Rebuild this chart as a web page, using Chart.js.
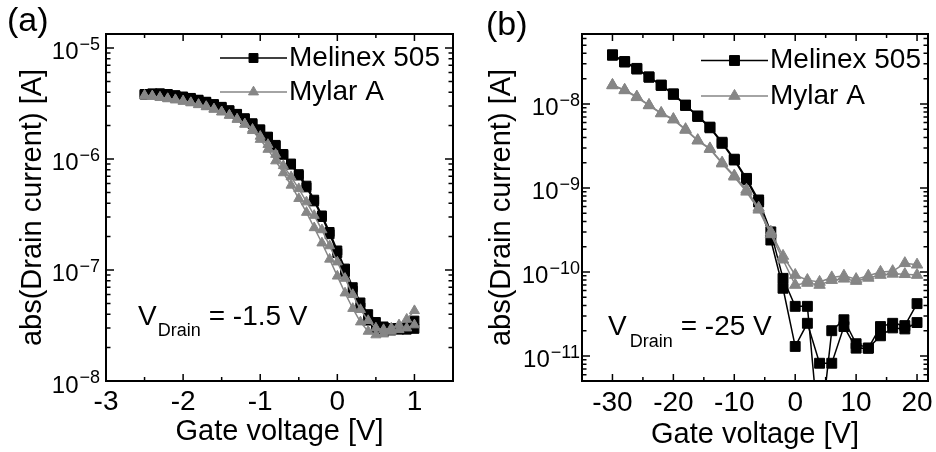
<!DOCTYPE html>
<html>
<head>
<meta charset="utf-8">
<script src="https://cdn.jsdelivr.net/npm/chart.js@4.4.0/dist/chart.umd.min.js"></script>
<style>
  html, body { margin: 0; padding: 0; background: #fff; }
  #wrap { position: relative; width: 936px; height: 452px; }
  .panel { position: absolute; top: 0; width: 468px; height: 452px; }
</style>
</head>
<body>
<div id="wrap">
  <div class="panel" style="left:0"><canvas id="chartA" width="468" height="452"></canvas></div>
  <div class="panel" style="left:468px"><canvas id="chartB" width="468" height="452"></canvas></div>
</div>
<script>
// ---- panel (a): V_Drain = -1.5 V ----
const gateA = [-2.5, -2.4, -2.3, -2.2, -2.1, -2.0, -1.9, -1.8, -1.7, -1.6, -1.5, -1.4,
  -1.3, -1.2, -1.1, -1.0, -0.9, -0.8, -0.7, -0.6, -0.5, -0.4, -0.3, -0.2, -0.1, 0,
  0.1, 0.2, 0.3, 0.4, 0.5, 0.6, 0.7, 0.8, 0.9, 1.0];
const melinexA_up = [3.85e-6, 3.9e-6, 3.9e-6, 3.85e-6, 3.75e-6, 3.65e-6, 3.55e-6, 3.42e-6,
  3.28e-6, 3.12e-6, 2.95e-6, 2.75e-6, 2.55e-6, 2.33e-6, 2.1e-6, 1.85e-6, 1.59e-6, 1.34e-6,
  1.11e-6, 9.1e-7, 7.3e-7, 5.75e-7, 4.3e-7, 3.1e-7, 2.2e-7, 1.5e-7, 1.03e-7, 7.0e-8,
  5.1e-8, 4.0e-8, 3.4e-8, 3.1e-8, 3.0e-8, 3.0e-8, 3.05e-8, 3.5e-8];
const melinexA_down = [3.8e-6, 3.85e-6, 3.88e-6, 3.84e-6, 3.74e-6, 3.63e-6, 3.52e-6, 3.4e-6,
  3.25e-6, 3.1e-6, 2.93e-6, 2.73e-6, 2.52e-6, 2.3e-6, 2.07e-6, 1.83e-6, 1.57e-6, 1.32e-6,
  1.09e-6, 8.9e-7, 7.1e-7, 5.55e-7, 4.15e-7, 3.0e-7, 2.1e-7, 1.42e-7, 9.6e-8, 6.5e-8,
  4.6e-8, 3.5e-8, 3.0e-8, 2.8e-8, 2.85e-8, 2.9e-8, 2.9e-8, 2.95e-8];
const mylarA_up = [3.75e-6, 3.7e-6, 3.6e-6, 3.5e-6, 3.42e-6, 3.33e-6, 3.22e-6, 3.1e-6,
  2.97e-6, 2.82e-6, 2.66e-6, 2.48e-6, 2.28e-6, 2.05e-6, 1.8e-6, 1.5e-6, 1.22e-6, 9.6e-7,
  7.5e-7, 5.8e-7, 4.4e-7, 3.3e-7, 2.4e-7, 1.75e-7, 1.25e-7, 8.8e-8, 6.2e-8, 4.5e-8,
  3.4e-8, 2.8e-8, 2.6e-8, 2.65e-8, 2.8e-8, 2.9e-8, 3.0e-8, 3.2e-8];
const mylarA_down = [3.7e-6, 3.65e-6, 3.57e-6, 3.48e-6, 3.4e-6, 3.3e-6, 3.2e-6, 3.08e-6,
  2.95e-6, 2.8e-6, 2.65e-6, 2.47e-6, 2.28e-6, 2.07e-6, 1.85e-6, 1.6e-6, 1.35e-6, 1.1e-6,
  8.7e-7, 6.9e-7, 5.4e-7, 4.1e-7, 3.1e-7, 2.3e-7, 1.65e-7, 1.18e-7, 8.4e-8, 6.0e-8,
  4.4e-8, 3.5e-8, 3.0e-8, 2.9e-8, 3.0e-8, 3.2e-8, 3.6e-8, 4.3e-8];
const xTicksA = [-3, -2, -1, 0, 1];
const xMinorA = [-2.5, -1.5, -0.5, 0.5];
const yExpA = [-8, -7, -6, -5];

// ---- panel (b): V_Drain = -25 V ----
const gateB = [-30, -28, -26, -24, -22, -20, -18, -16, -14, -12, -10, -8, -6, -4, -2, 0,
  2, 4, 6, 8, 10, 12, 14, 16, 18, 20];
const melinexB_up = [3.85e-8, 3.2e-8, 2.65e-8, 2.1e-8, 1.68e-8, 1.32e-8, 9.7e-9, 7.2e-9,
  5.3e-9, 3.5e-9, 2.2e-9, 1.3e-9, 7.2e-10, 3.0e-10, 8.4e-11, 3.9e-11, 3.9e-11, 1e-12,
  2.0e-11, 2.7e-11, 1.4e-11, 1.24e-11, 2.24e-11, 2.45e-11, 2.3e-11, 4.2e-11];
const melinexB_down = [3.8e-8, 3.15e-8, 2.6e-8, 2.08e-8, 1.66e-8, 1.3e-8, 9.6e-9, 7.1e-9,
  5.2e-9, 3.4e-9, 2.15e-9, 1.25e-9, 6.8e-10, 2.4e-10, 6.4e-11, 1.3e-11, 2.45e-11, 8.2e-12,
  8.2e-12, 2.24e-11, 1.24e-11, 1.24e-11, 1.74e-11, 2.16e-11, 2.1e-11, 2.5e-11];
const mylarB_up = [1.68e-8, 1.47e-8, 1.22e-8, 9.7e-9, 7.8e-9, 6.6e-9, 5.0e-9, 3.7e-9,
  2.95e-9, 2.0e-9, 1.4e-9, 9.5e-10, 5.8e-10, 3.0e-10, 1.55e-10, 9.2e-11, 8.0e-11, 7.6e-11,
  8.6e-11, 9.0e-11, 8.2e-11, 9.0e-11, 1.0e-10, 1.02e-10, 1.27e-10, 1.22e-10];
const mylarB_down = [1.66e-8, 1.45e-8, 1.2e-8, 9.6e-9, 7.7e-9, 6.5e-9, 4.9e-9, 3.65e-9,
  2.9e-9, 1.95e-9, 1.36e-9, 9.0e-10, 5.5e-10, 2.8e-10, 1.4e-10, 7.0e-11, 7.4e-11, 7.0e-11,
  8.0e-11, 8.3e-11, 7.8e-11, 8.5e-11, 9.2e-11, 9.5e-11, 9.4e-11, 9.2e-11];
const xTicksB = [-30, -20, -10, 0, 10, 20];
const xMinorB = [-25, -15, -5, 5, 15];
const yExpB = [-11, -10, -9, -8];

const FONT = '"Liberation Sans", Arial, Helvetica, sans-serif';
const BLACK = '#000000';
const GREY = '#868686';

function series(label, xs, ys, color, style, r) {
    return {
        label: label,
        data: xs.map((x, i) => ({ x: x, y: ys[i] })),
        borderColor: color,
        backgroundColor: color,
        borderWidth: 1.5,
        pointStyle: style,
        pointRadius: r,
        pointBorderWidth: 1,
        pointBorderColor: color,
        pointBackgroundColor: color,
        tension: 0,
        order: color === GREY ? 0 : 1, // grey drawn on top
    };
}

// frame, inward ticks, 10^n labels, legend and notes
const decor = {
    id: "decor",
    afterDraw(chart, args, o) {
        const ctx = chart.ctx;
        const a = chart.chartArea;
        const xs = chart.scales.x, ys = chart.scales.y;
        ctx.save();
        ctx.strokeStyle = BLACK;
        ctx.lineWidth = 1.5;
        ctx.beginPath();
        const vTick = (v, len) => {
            const px = xs.getPixelForValue(v);
            ctx.moveTo(px, a.bottom); ctx.lineTo(px, a.bottom - len);
            ctx.moveTo(px, a.top); ctx.lineTo(px, a.top + len);
        };
        const hTick = (v, len) => {
            const py = ys.getPixelForValue(v);
            ctx.moveTo(a.left, py); ctx.lineTo(a.left + len, py);
            ctx.moveTo(a.right, py); ctx.lineTo(a.right - len, py);
        };
        o.xMajor.forEach(v => vTick(v, 7));
        o.xMinor.forEach(v => vTick(v, 4));
        for (let e = Math.floor(Math.log10(ys.min)); e <= Math.log10(ys.max); e++) {
            for (let m = 1; m <= 9; m++) {
                const v = m * Math.pow(10, e);
                if (v < ys.min || v > ys.max) continue;
                hTick(v, m === 1 ? 8 : 4.5);
            }
        }
        ctx.stroke();

        ctx.lineWidth = 2;
        ctx.strokeRect(a.left, a.top, a.right - a.left, a.bottom - a.top);

        // y tick labels as 10 with superscript exponent
        ctx.fillStyle = BLACK;
        ctx.textAlign = "left";
        ctx.textBaseline = "alphabetic";
        o.yExp.forEach(e => {
            const py = ys.getPixelForValue(Math.pow(10, e));
            const sup = "\u2212" + Math.abs(e);
            ctx.font = "18px " + FONT;
            const wSup = ctx.measureText(sup).width;
            ctx.font = "24px " + FONT;
            const wBase = ctx.measureText("10").width;
            const right = a.left - o.labelGap;
            ctx.fillText("10", right - wSup - wBase - 1, py + 11.5);
            ctx.font = "18px " + FONT;
            ctx.fillText(sup, right - wSup, py + 2);
        });

        // legend
        chart.data.datasets.filter(d => d.label).forEach((d, i) => {
            const y = o.legend.y[i];
            ctx.strokeStyle = d.borderColor;
            ctx.lineWidth = 1.5;
            ctx.beginPath();
            ctx.moveTo(o.legend.x0, y);
            ctx.lineTo(o.legend.x1, y);
            ctx.stroke();
            ctx.fillStyle = d.backgroundColor;
            ctx.lineWidth = 1;
            Chart.helpers.drawPoint(ctx, { pointStyle: d.pointStyle, radius: d.pointRadius, borderWidth: 1, rotation: 0 },
                (o.legend.x0 + o.legend.x1) / 2, y);
            ctx.fillStyle = BLACK;
            ctx.font = "28px " + FONT;
            ctx.textBaseline = "middle";
            ctx.fillText(d.label, o.legend.x1 + 2, y);
        });

        // V_Drain note
        ctx.textBaseline = "alphabetic";
        ctx.font = "28px " + FONT;
        ctx.fillText("V", o.note.x, o.note.y);
        const wV = ctx.measureText("V").width;
        ctx.font = "18px " + FONT;
        ctx.fillText("Drain", o.note.x + wV + o.note.subGap, o.note.y + o.note.subDrop);
        const wD = ctx.measureText("Drain").width;
        ctx.font = "28px " + FONT;
        ctx.fillText(o.note.text, o.note.x + wV + o.note.subGap + wD + 8, o.note.y);

        // panel letter
        ctx.font = "34px " + FONT;
        ctx.fillText(o.letter.text, o.letter.x, o.letter.y);
        ctx.restore();
    },
};

function makeChart(id, cfg) {
    return new Chart(document.getElementById(id), {
        type: "line",
        data: { datasets: cfg.datasets },
        options: {
            responsive: false,
            animation: false,
            devicePixelRatio: 1,
            layout: { padding: { top: 34, left: 0, right: cfg.padRight, bottom: 0 } },
            plugins: {
                legend: { display: false },
                tooltip: { enabled: false },
                decor: cfg.decor,
            },
            scales: {
                x: {
                    type: "linear",
                    min: cfg.xMin,
                    max: cfg.xMax,
                    bounds: "data",
                    grid: { display: false, drawTicks: false },
                    border: { display: false },
                    afterBuildTicks: s => { s.ticks = cfg.xTicks.map(v => ({ value: v })); },
                    afterFit: s => { s.height = 71; s.paddingLeft = 0; s.paddingRight = 0; },
                    ticks: {
                        color: BLACK,
                        font: { family: FONT, size: 28, lineHeight: 1.2 },
                        padding: cfg.tickPad,
                        maxRotation: 0,
                        minRotation: 0,
                        autoSkip: false,
                        callback: v => String(v),
                    },
                    title: {
                        display: true,
                        text: "Gate voltage [V]",
                        color: BLACK,
                        font: { family: FONT, size: 29, lineHeight: 1.2 },
                        padding: { top: 0, bottom: cfg.xTitlePad },
                    },
                },
                y: {
                    type: "logarithmic",
                    min: cfg.yMin,
                    max: cfg.yMax,
                    bounds: "data",
                    grid: { display: false, drawTicks: false },
                    border: { display: false },
                    ticks: { display: false },
                    afterFit: s => { s.width = cfg.yWidth; },
                    title: {
                        display: true,
                        text: "abs(Drain current) [A]",
                        color: BLACK,
                        font: { family: FONT, size: 29, lineHeight: 1.2 },
                        padding: { top: cfg.yTitlePad, bottom: 0 },
                    },
                },
            },
        },
        plugins: [decor],
    });
}

makeChart("chartA", {
    datasets: [
        series("Melinex 505", gateA, melinexA_up, BLACK, "rect", 6.3),
        series("", gateA, melinexA_down, BLACK, "rect", 6.3),
        series("Mylar A", gateA, mylarA_up, GREY, "triangle", 5.8),
        series("", gateA, mylarA_down, GREY, "triangle", 5.8),
    ],
    xMin: -3, xMax: 1.5, xTicks: xTicksA,
    yMin: 1e-8, yMax: 1.336e-5,
    yWidth: 106, padRight: 15,
    tickPad: 4.2, xTitlePad: 2.6, yTitlePad: 15.1,
    decor: {
        xMajor: xTicksA, xMinor: xMinorA, yExp: yExpA, labelGap: 6,
        legend: { x0: 220, x1: 287, y: [58, 92] },
        note: { x: 138, y: 325, text: "= -1.5 V", subGap: 1, subDrop: 11 },
        letter: { text: "(a)", x: 7, y: 31 },
    },
});

makeChart("chartB", {
    datasets: [
        series("Melinex 505", gateB, melinexB_up, BLACK, "rect", 7),
        series("", gateB, melinexB_down, BLACK, "rect", 7),
        series("Mylar A", gateB, mylarB_up, GREY, "triangle", 6.6),
        series("", gateB, mylarB_down, GREY, "triangle", 6.6),
    ],
    xMin: -35, xMax: 21.8, xTicks: xTicksB,
    yMin: 5.04e-12, yMax: 6.8e-8,
    yWidth: 114, padRight: 6,
    tickPad: 5.2, xTitlePad: 0, yTitlePad: 16.6,
    decor: {
        xMajor: xTicksB, xMinor: xMinorB, yExp: yExpB, labelGap: 2,
        legend: { x0: 233, x1: 300, y: [60.5, 96] },
        note: { x: 140, y: 335, text: "= -25 V", subGap: 3, subDrop: 12 },
        letter: { text: "(b)", x: 18, y: 35 },
    },
});
</script>
</body>
</html>
